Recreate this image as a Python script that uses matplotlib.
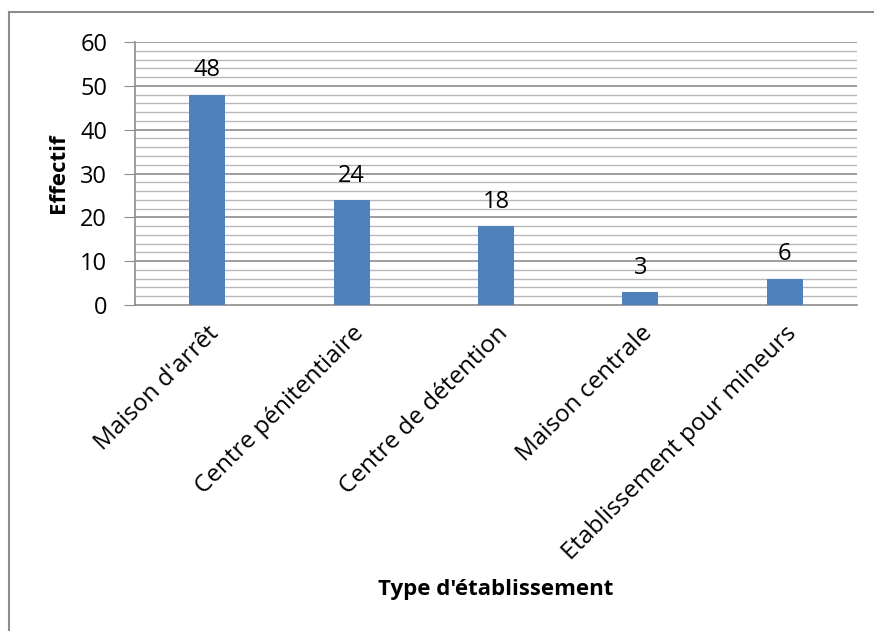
import matplotlib.pyplot as plt
from matplotlib.lines import Line2D
import numpy as np

categories = ["Maison d'arrêt", "Centre pénitentiaire", "Centre de détention",
              "Maison centrale", "Etablissement pour mineurs"]
values = [48, 24, 18, 3, 6]
yticks = [0, 10, 20, 30, 40, 50, 60]

plt.rcParams['font.family'] = ['Open Sans', 'DejaVu Sans']

fig = plt.figure(figsize=(8.74, 6.31), dpi=100)
ax = fig.add_axes([135 / 874, 1 - 305 / 631, 722 / 874, 263 / 631])

x = np.arange(len(categories))
ax.bar(x, values, width=0.25, color="#4f81bd", zorder=3)
for xi, v in zip(x, values):
    ax.text(xi, v + 2.8, str(v), ha="center", va="bottom", fontsize=17)

ax.set_xlim(-0.5, len(categories) - 0.5)
ax.set_ylim(0, 60)

# gridlines: minor every 2, major every 10
for yv in np.arange(2, 61, 2):
    if yv % 10 == 0:
        ax.axhline(yv, color="#8c8c8c", lw=1.2, zorder=1)
    else:
        ax.axhline(yv, color="#b8b8b8", lw=1.0, zorder=1)

ax.set_yticks(yticks)
ax.set_yticklabels([str(t) for t in yticks], fontsize=17)
ax.tick_params(axis="y", length=8, color="#8c8c8c", pad=12)
ax.set_xticks(x)
ax.set_xticklabels(categories, rotation=45, ha="right", rotation_mode="anchor", fontsize=17.5)
ax.tick_params(axis="x", length=0, pad=12)

for s in ["top", "right"]:
    ax.spines[s].set_visible(False)
for s in ["left", "bottom"]:
    ax.spines[s].set_color("#8c8c8c")
    ax.spines[s].set_linewidth(1.2)

ax.set_ylabel("Effectif", fontsize=16, fontweight="bold", labelpad=8)
fig.text(496 / 874, 1 - 590 / 631, "Type d'établissement", ha="center", va="center",
         fontsize=16, fontweight="bold")

# outer chart border
fig.add_artist(Line2D([9 / 874, 1], [1 - 12 / 631, 1 - 12 / 631], transform=fig.transFigure,
                      color="#8c8c8c", lw=1.5))
fig.add_artist(Line2D([9 / 874, 9 / 874], [0, 1 - 12 / 631], transform=fig.transFigure,
                      color="#8c8c8c", lw=1.5))

fig.savefig("out.png", dpi=100)
